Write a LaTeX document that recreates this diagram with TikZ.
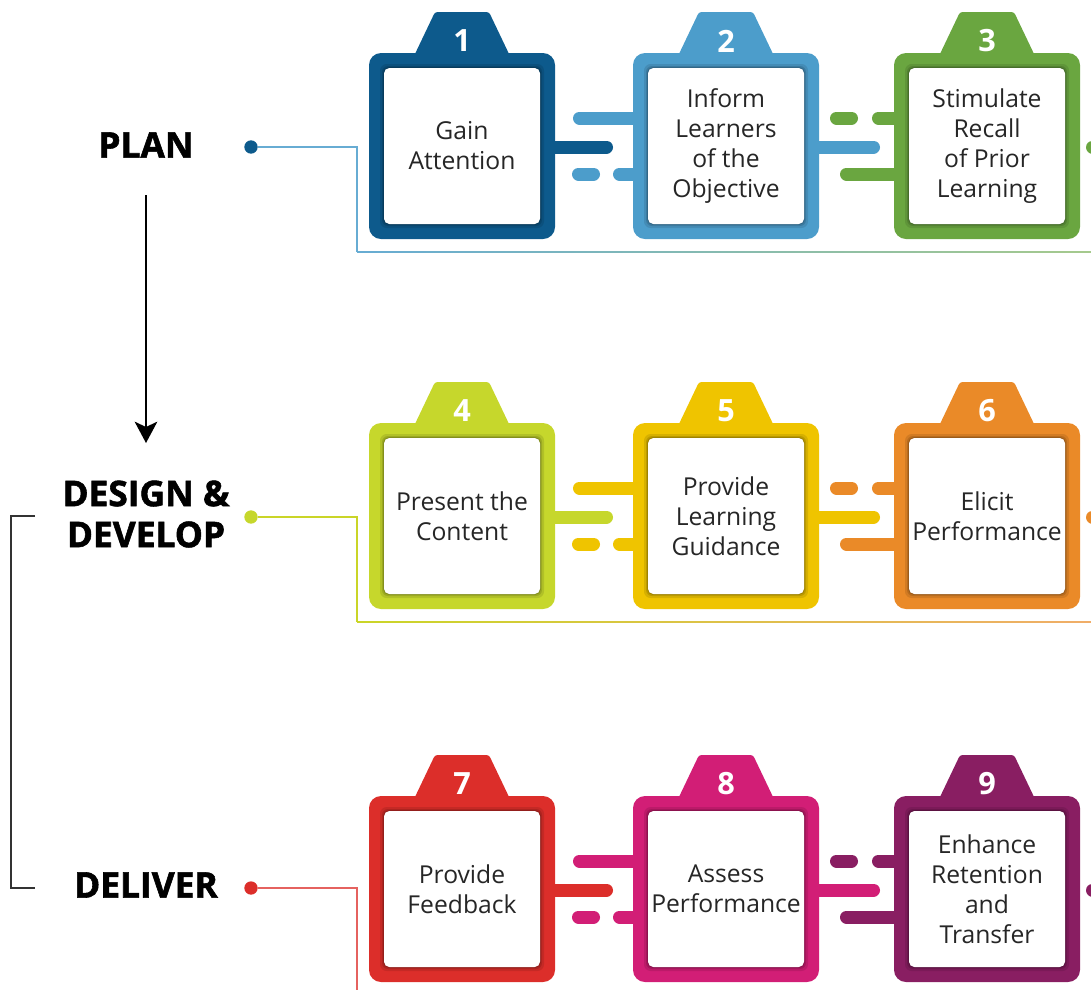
\documentclass[tikz,border=0pt]{standalone}
\usepackage{fontspec}
\setmainfont{Open Sans}
\newfontfamily\phasefont{Open Sans}[BoldFeatures={FakeBold=1.6}]
\usetikzlibrary{positioning,arrows.meta}

\definecolor{stepone}{RGB}{13,90,140}
\definecolor{steptwo}{RGB}{76,157,203}
\definecolor{stepthree}{RGB}{106,166,64}
\definecolor{stepfour}{RGB}{198,215,44}
\definecolor{stepfive}{RGB}{239,196,0}
\definecolor{stepsix}{RGB}{234,138,40}
\definecolor{stepseven}{RGB}{220,46,42}
\definecolor{stepeight}{RGB}{210,30,118}
\definecolor{stepnine}{RGB}{137,30,98}

\tikzset{every picture/.style={line width=0.75pt},
	phase/.style={align=center,inner sep=0.75pt,font=\phasefont\fontsize{26.5}{30.75}\selectfont\bfseries},
	steptext/.style={align=center,inner sep=0.75pt,text=black!85,font=\fontsize{18.5}{22.5}\selectfont},
	numlabel/.style={inner sep=0.75pt,text=white,font=\fontsize{23}{23}\selectfont\bfseries},
	bar/.style={line width=9.75pt,line cap=round},
	dot/.style={circle,inner sep=0pt,minimum size=10pt},
	phaseline/.style={line width=1.1pt}}

\begin{document}
\begin{tikzpicture}[x=0.75pt,y=0.75pt,yscale=-1]
	\useasboundingbox (0,0) rectangle (1091,990);
	\clip (0,0) rectangle (1091,990);
	
	% Phase labels
	\node[phase] (plan) at (146,145) {PLAN};
	\node[phase] (design) at (146,514) {DESIGN \&\\DEVELOP};
	\node[phase] (deliver) at (146,885) {DELIVER};
	
	%Straight Lines: arrow PLAN to DESIGN
	\coordinate (arrtop) at (146,195);
	\coordinate (arrbot) at (146,443);
	\draw [line width=1.5pt,-{Stealth[length=16pt,width=17pt,inset=4pt]}] (arrtop) -- (arrbot);
	
	%Shape: bracket DESIGN to DELIVER
	\coordinate (brtop) at (35,516);
	\coordinate (brbot) at (35,888);
	\draw [line width=1.5pt,black!80] (brtop) -- (11,516) -- (11,888) -- (brbot);
	
	% Dots and their lines
	\node[dot,fill=stepone] (plandot) at (251,147) {};
	\node[dot,fill=stepfour] (designdot) at (251,517) {};
	\node[dot,fill=stepseven] (deliverdot) at (251,888) {};
	\draw [phaseline,steptwo!85] (plandot) -- (357,147) -- (357,252);
	\shade [left color=steptwo!85,right color=stepthree!60] (357,251.3) rectangle (1091,252.8);
	\draw [phaseline,stepfour!90!stepfive] (designdot) -- (357,517) -- (357,622);
	\shade [left color=stepfour!90!stepfive,middle color=stepfive!80,right color=stepsix!70] (357,621.3) rectangle (1091,622.8);
	\draw [phaseline,stepseven!75] (deliverdot) -- (357,888) -- (357,990);
	
	% Bars between the cards
	\foreach \T/\a/\b/\c in {53/stepone/steptwo/stepthree,423/stepfour/stepfive/stepsix,796/stepseven/stepeight/stepnine}{
		\draw [bar,\b] (579.5,\T+65) -- (640,\T+65);
		\draw [bar,\a] (550,\T+94) -- (606.5,\T+94);
		\draw [bar,\b] (578.5,\T+121) -- (593.5,\T+121);
		\draw [bar,\b] (619.5,\T+121) -- (640,\T+121);
		\draw [bar,\c] (836.5,\T+65) -- (851.5,\T+65);
		\draw [bar,\c] (878.5,\T+65) -- (900,\T+65);
		\draw [bar,\b] (815,\T+94) -- (873.5,\T+94);
		\draw [bar,\c] (846.5,\T+121) -- (900,\T+121);
		\draw [bar,\c] (1092.5,\T+94) -- (1120,\T+94);
	}
	
	% Cards
	\foreach \L/\T/\c/\n/\txt in {
		369/53/stepone/1/{Gain\\Attention},
		633/53/steptwo/2/{Inform\\Learners\\of the\\Objective},
		894/53/stepthree/3/{Stimulate\\Recall\\of Prior\\Learning},
		369/423/stepfour/4/{Present the\\Content},
		633/423/stepfive/5/{Provide\\Learning\\Guidance},
		894/423/stepsix/6/{Elicit\\Performance},
		369/796/stepseven/7/{Provide\\Feedback},
		633/796/stepeight/8/{Assess\\Performance},
		894/796/stepnine/9/{Enhance\\Retention\\and\\Transfer}}{
		%Shape: tab
		\fill [\c,rounded corners=2pt] (\L+66,\T-41) -- (\L+120,\T-41) -- (\L+141,\T+3) -- (\L+45,\T+3) -- cycle;
		%Shape: card
		\fill [\c,rounded corners=9pt] (\L,\T) rectangle (\L+186,\T+186);
		\fill [black,opacity=0.1,rounded corners=5pt] (\L+11,\T+11) rectangle (\L+175,\T+175);
		\fill [black,opacity=0.12,rounded corners=4.5pt] (\L+13,\T+13) rectangle (\L+173,\T+173);
		\fill [black,opacity=0.15,rounded corners=4pt] (\L+14.2,\T+14.2) rectangle (\L+171.8,\T+171.8);
		\fill [white,rounded corners=4pt] (\L+15,\T+15) rectangle (\L+171,\T+171);
		% Text Node
		\node[numlabel] (num\n) at (\L+93,\T-12) {\n};
		% Text Node
		\node[steptext] (card\n) at (\L+93,\T+93) {\txt};
	}
\end{tikzpicture}
\end{document}
